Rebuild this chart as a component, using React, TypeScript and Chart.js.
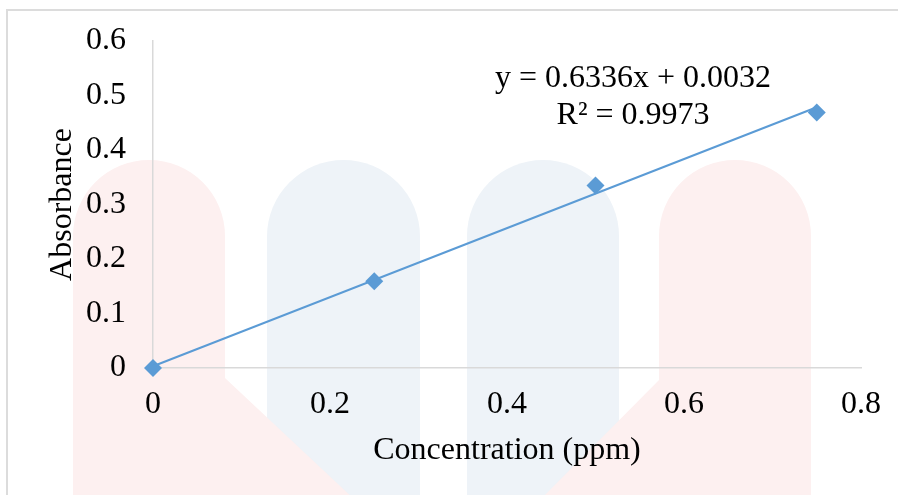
import React, { useEffect, useRef } from "react";
import { Chart, registerables } from "chart.js";

Chart.register(...registerables);

// ---- data ----
const concentration = [0, 0.25, 0.5, 0.75];
const absorbance = [0, 0.159, 0.335, 0.469];
const trendX = [0, 0.75];
const trendY = [0.0032, 0.4784];
const equationLines = ["y = 0.6336x + 0.0032", "R² = 0.9973"];
const equationAnchorX = 0.5424;
const equationAnchorY = [0.5154, 0.4473];
const xTitle = "Concentration (ppm)";
const yTitle = "Absorbance";

const SERIES_COLOR = "#5B9BD5";
const FONT = "'Liberation Serif', 'Times New Roman', serif";

const watermarkPlugin = {
  id: "watermark",
  beforeDraw(chart: any) {
    const ctx = chart.ctx as CanvasRenderingContext2D;
    ctx.save();
    const leg = (cx: number, r: number, top: number, bottom: number) => {
      ctx.beginPath();
      ctx.moveTo(cx - r, bottom);
      ctx.lineTo(cx - r, top + r);
      ctx.arc(cx, top + r, r, Math.PI, 0);
      ctx.lineTo(cx + r, bottom);
      ctx.closePath();
      ctx.fill();
    };
    ctx.fillStyle = "rgb(238,243,248)";
    leg(343.5, 76.5, 160, 500);
    leg(543, 76, 160, 500);
    ctx.fillStyle = "rgb(253,240,240)";
    ctx.beginPath();
    ctx.moveTo(73, 500);
    ctx.lineTo(73, 236);
    ctx.arc(149, 236, 76, Math.PI, 0);
    ctx.lineTo(225, 378);
    ctx.lineTo(355, 500);
    ctx.closePath();
    ctx.fill();
    ctx.beginPath();
    ctx.moveTo(811, 500);
    ctx.lineTo(811, 236);
    ctx.arc(735, 236, 76, 0, Math.PI, true);
    ctx.lineTo(659, 380);
    ctx.lineTo(540, 500);
    ctx.closePath();
    ctx.fill();
    ctx.restore();
  },
};

const equationPlugin = {
  id: "equation",
  afterDatasetsDraw(chart: any) {
    const ctx = chart.ctx as CanvasRenderingContext2D;
    const xs = chart.scales.x;
    const ys = chart.scales.y;
    ctx.save();
    ctx.font = `32px ${FONT}`;
    ctx.fillStyle = "#000";
    ctx.textAlign = "center";
    ctx.textBaseline = "alphabetic";
    equationLines.forEach((line, i) => {
      ctx.fillText(line, xs.getPixelForValue(equationAnchorX), ys.getPixelForValue(equationAnchorY[i]));
    });
    ctx.restore();
  },
};

export default function App() {
  const ref = useRef<HTMLCanvasElement | null>(null);

  useEffect(() => {
    if (!ref.current) return;
    const chart = new Chart(ref.current, {
      type: "scatter",
      data: {
        datasets: [
          {
            label: "Trend",
            data: trendX.map((x, i) => ({ x, y: trendY[i] })),
            showLine: true,
            borderColor: SERIES_COLOR,
            borderWidth: 2,
            pointRadius: 0,
            fill: false,
            clip: false,
          },
          {
            label: "Absorbance",
            data: concentration.map((x, i) => ({ x, y: absorbance[i] })),
            showLine: false,
            pointStyle: "rectRot",
            pointRadius: 9,
            pointBackgroundColor: SERIES_COLOR,
            pointBorderColor: SERIES_COLOR,
            pointBorderWidth: 0,
            clip: false,
          },
        ],
      },
      options: {
        responsive: false,
        animation: false,
        devicePixelRatio: 1,
        layout: { padding: { top: 41, right: 37, left: 0, bottom: 0 } },
        plugins: {
          legend: { display: false },
          tooltip: { enabled: false },
        },
        scales: {
          x: {
            type: "linear",
            min: 0,
            max: 0.8,
            afterFit: (s: any) => {
              s.height = 127;
            },
            ticks: {
              stepSize: 0.2,
              padding: 17,
              color: "#000",
              font: { family: FONT, size: 32 },
              callback: (v: any) => String(Math.round(Number(v) * 10) / 10),
            },
            grid: { display: false, drawTicks: false },
            border: { display: true, color: "#d9d9d9", width: 1.5 },
            title: {
              display: true,
              text: xTitle,
              color: "#000",
              font: { family: FONT, size: 32 },
              padding: 25,
            },
          },
          y: {
            type: "linear",
            min: 0,
            max: 0.6,
            afterFit: (s: any) => {
              s.width = 153;
              s.paddingTop = 0;
              s.paddingBottom = 0;
            },
            ticks: {
              stepSize: 0.1,
              padding: 27,
              color: "#000",
              font: { family: FONT, size: 32 },
              callback: (v: any) => String(Math.round(Number(v) * 10) / 10),
            },
            grid: { display: false, drawTicks: false },
            border: { display: true, color: "#d9d9d9", width: 1.5 },
            title: {
              display: true,
              text: yTitle,
              color: "#000",
              font: { family: FONT, size: 32 },
              padding: 43,
            },
          },
        },
      },
      plugins: [watermarkPlugin, equationPlugin],
    });
    return () => chart.destroy();
  }, []);

  return (
    <div style={{ position: "absolute", left: 0, top: 0, width: 898, height: 495, background: "#fff", overflow: "hidden" }}>
      <div
        style={{
          position: "absolute",
          left: 6,
          top: 9,
          right: -10,
          bottom: -10,
          borderLeft: "2px solid #dcdcdc",
          borderTop: "2px solid #dcdcdc",
        }}
      />
      <canvas ref={ref} width={898} height={495} style={{ position: "absolute", left: 0, top: 0, width: 898, height: 495 }} />
    </div>
  );
}
